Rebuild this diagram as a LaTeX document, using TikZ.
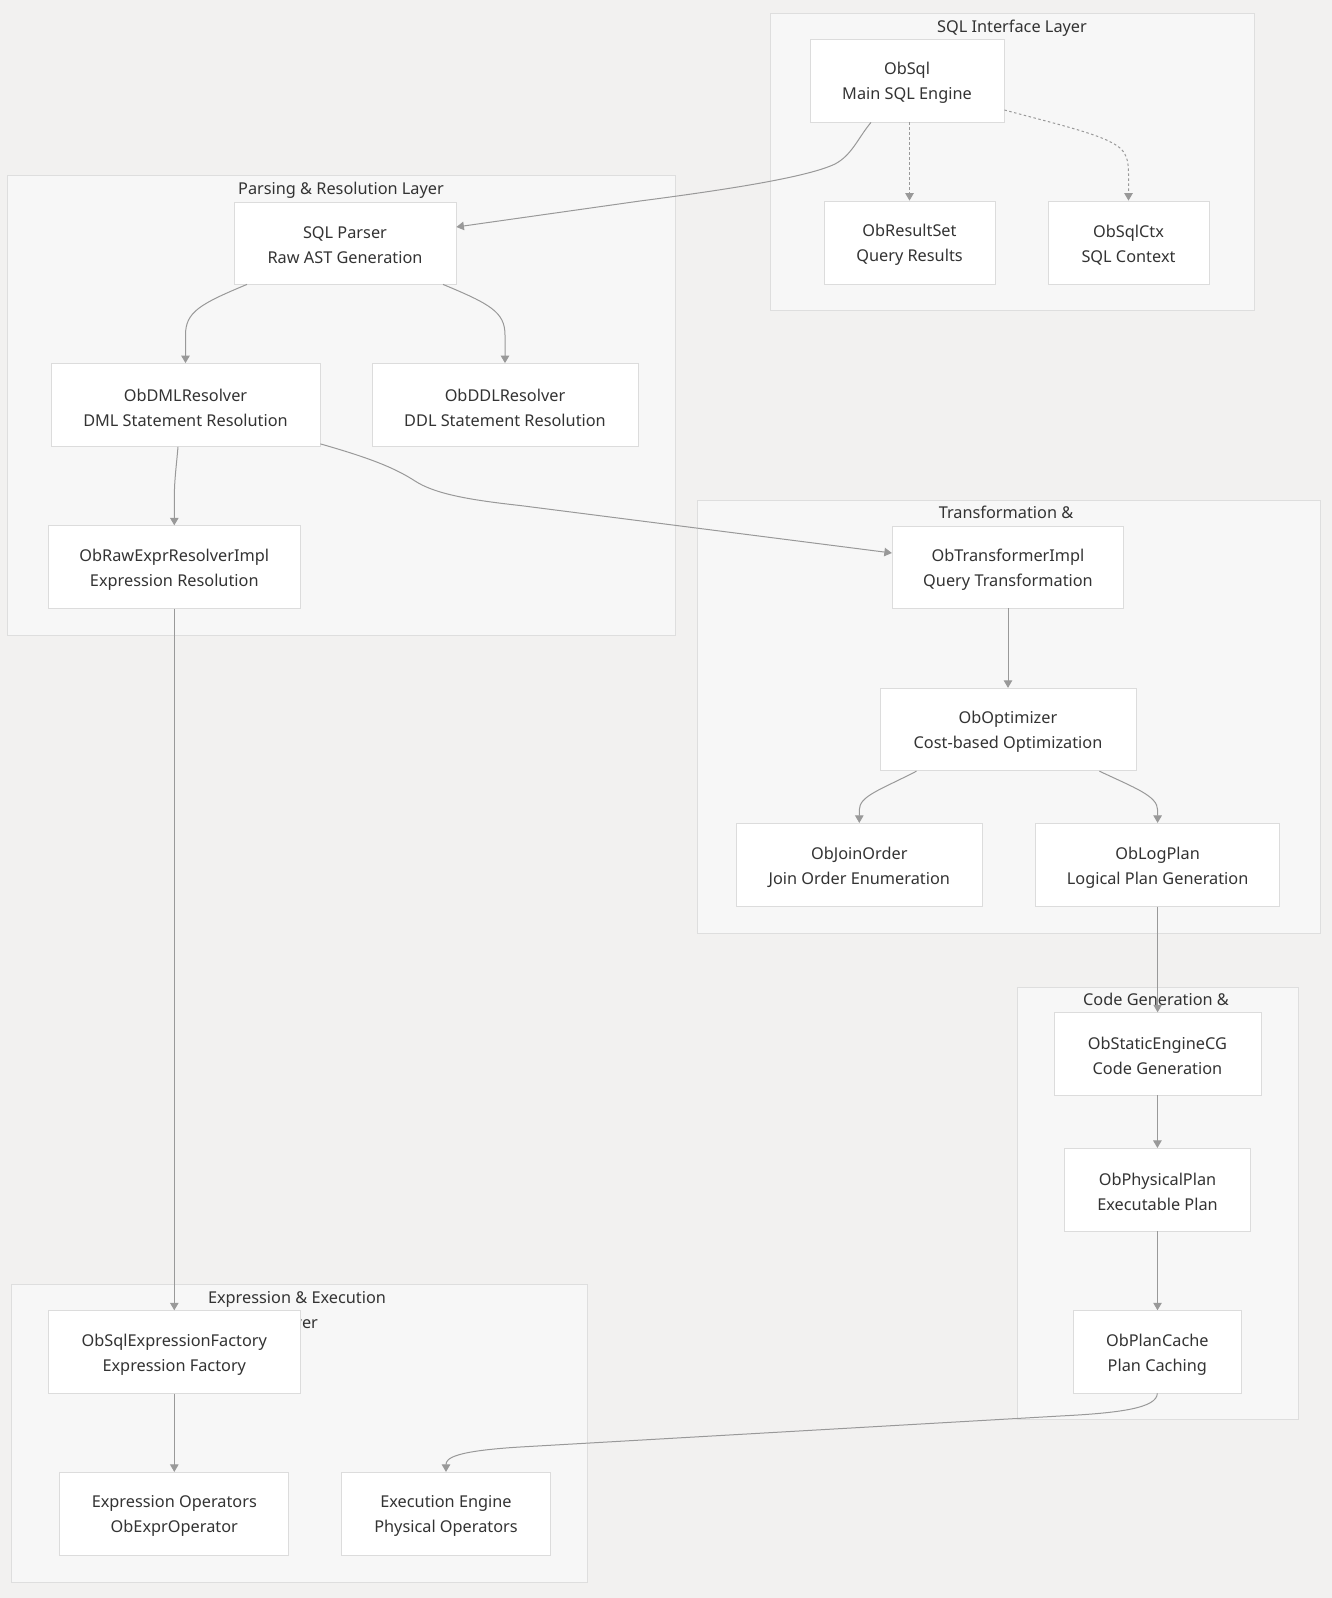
\documentclass[tikz,border=0pt]{standalone}
\usepackage{fontspec}
\setmainfont{Noto Sans}
\usetikzlibrary{arrows.meta,calc}
\definecolor{pagebg}{HTML}{F2F1F0}
\definecolor{clusterfill}{HTML}{F7F7F7}
\definecolor{clusterline}{HTML}{DEDEDE}
\definecolor{boxline}{HTML}{DCDCDC}
\definecolor{edgegray}{HTML}{999999}
\definecolor{ink}{HTML}{333333}
% box: name, centre x, centre y, width, height, text
\newcommand\obbox[6]{%
  \node[box,minimum width=#4pt,minimum height=#5pt] (#1) at (#2,#3) {};
  \node[boxtext] (#1-text) at ([yshift=-2.5pt]#1.center) {#6};}
% layer frame: name, left, top, right, bottom
\newcommand\oblayer[5]{\node[layer,minimum width=#4pt-#2pt,minimum height=#5pt-#3pt] (#1) at ({(#2+#4)/2},{(#3+#5)/2}) {};}
\begin{document}
\begin{tikzpicture}[x=1pt,y=-1pt,
  layer/.style={draw=clusterline,fill=clusterfill,line width=0.8pt,inner sep=0pt},
  layertitle/.style={text=ink,font=\fontsize{16.3}{25}\selectfont,inner sep=0pt,anchor=base},
  box/.style={draw=boxline,fill=white,line width=0.8pt,inner sep=0pt},
  boxtext/.style={align=center,inner sep=0pt,text=ink,font=\fontsize{16.3}{25}\selectfont},
  flow/.style={draw=edgegray,line width=1pt,-{Triangle[length=7.5pt,width=8.5pt]}},
  weak/.style={flow,dash pattern=on 2.5pt off 2.5pt}]
\useasboundingbox (0,0) rectangle (1332,1598);
\fill[pagebg] (0,0) rectangle (1332,1598);

% layer frames
\oblayer{Liface}{770}{13}{1254}{310}
\oblayer{Lparse}{7}{175}{675}{635}
\oblayer{Ltrans}{697}{500}{1320}{933}
\oblayer{Lcode}{1017}{987}{1298}{1419}
\oblayer{Lexpr}{11}{1284}{587}{1582}

% layer titles
\node[layertitle] (Tiface) at (1012,32) {SQL Interface Layer};
\node[layertitle] (Tparse) at (341,194) {Parsing \& Resolution Layer};
\node[layertitle] (Ttrans) at (1006,518.5) {Transformation \&};
\node[layertitle] (Tcode) at (1156,1005) {Code Generation \&};
\node[layertitle] (Texpr1) at (297,1303) {Expression \& Execution};
\node[layertitle] (Texpr2) at (297,1328.5) {Layer};

% components
\obbox{ObSql}{907}{80.5}{194}{83}{ObSql\\Main SQL Engine}
\obbox{ResultSet}{909.5}{242.5}{171}{83}{ObResultSet\\Query Results}
\obbox{SqlCtx}{1128.5}{242.5}{161}{83}{ObSqlCtx\\SQL Context}
\obbox{Parser}{345}{243}{222}{82}{SQL Parser\\Raw AST Generation}
\obbox{DML}{185.5}{405}{269}{83}{ObDMLResolver\\DML Statement Resolution}
\obbox{DDL}{505}{405}{266}{83}{ObDDLResolver\\DDL Statement Resolution}
\obbox{RawExpr}{174.3}{567}{251.4}{82.6}{ObRawExprResolverImpl\\Expression Resolution}
\obbox{Transformer}{1008}{567}{231.5}{82}{ObTransformerImpl\\Query Transformation}
\obbox{Optimizer}{1008}{729.5}{256}{82.5}{ObOptimizer\\Cost-based Optimization}
\obbox{JoinOrder}{859.3}{864.8}{245.7}{83}{ObJoinOrder\\Join Order Enumeration}
\obbox{LogPlan}{1157.6}{864.8}{244.5}{83}{ObLogPlan\\Logical Plan Generation}
\obbox{StaticCG}{1157.4}{1053.8}{207}{82.3}{ObStaticEngineCG\\Code Generation}
\obbox{PhysPlan}{1157.5}{1189.7}{185.7}{82.7}{ObPhysicalPlan\\Executable Plan}
\obbox{PlanCache}{1157.3}{1351.8}{168}{82.3}{ObPlanCache\\Plan Caching}
\obbox{ExprFactory}{174.3}{1352}{252.2}{82.6}{ObSqlExpressionFactory\\Expression Factory}
\obbox{ExprOps}{174.3}{1513.8}{229}{83}{Expression Operators\\ObExprOperator}
\obbox{ExecEngine}{446}{1513.8}{208.5}{83}{Execution Engine\\Physical Operators}

% connectors
\draw[flow] ([xshift=-36pt]ObSql.south) .. controls (858,138) and (852,155) .. (835,164)
  .. controls (810,176) and (740,188) .. (640,201) -- ([yshift=16pt]Parser.east);
\draw[weak] (ResultSet.north |- ObSql.south) -- (ResultSet.north);
\draw[weak] ([yshift=-29.5pt]ObSql.east) .. controls (1060,125) and (1105,135) .. (1120,148)
  .. controls (1128,155) and (1128.5,165) .. (1128.5,175) -- (SqlCtx.north);
\draw[flow] ([xshift=-98pt]Parser.south) .. controls (200,304) and (185.5,312) .. (185.5,335) -- (DML.north);
\draw[flow] ([xshift=98pt]Parser.south) .. controls (490,304) and (505,312) .. (505,335) -- (DDL.north);
\draw[flow] ([xshift=-7.5pt]DML.south) .. controls (176,470) and (174.3,480) .. (174.3,500) -- (RawExpr.north);
\draw[flow] ([yshift=3pt]DML.south east) .. controls (370,458) and (395,468) .. (415,481)
  .. controls (435,494) and (470,500) .. (520,505.5) -- ([yshift=14pt]Transformer.west);
\draw[flow] (RawExpr.south) -- (ExprFactory.north);
\draw[flow] (Transformer.south) -- (Optimizer.north);
\draw[flow] ([xshift=-91.5pt]Optimizer.south) .. controls (880,790) and (859.3,796) .. (859.3,810) -- (JoinOrder.north);
\draw[flow] ([xshift=91.4pt]Optimizer.south) .. controls (1135,788) and (1157.6,796) .. (1157.6,810) -- (LogPlan.north);
\draw[flow] (LogPlan.south) -- (StaticCG.north -| LogPlan.south);
\draw[flow] (StaticCG.south) -- (PhysPlan.north -| StaticCG.south);
\draw[flow] (PhysPlan.south) -- (PlanCache.north -| PhysPlan.south);
\draw[flow] (PlanCache.south) .. controls (1157,1408) and (1120,1413) .. (1060,1416)
  -- (520,1447) .. controls (455,1451) and (446,1458) .. (ExecEngine.north);
\draw[flow] (ExprFactory.south) -- (ExprOps.north);
\end{tikzpicture}
\end{document}
